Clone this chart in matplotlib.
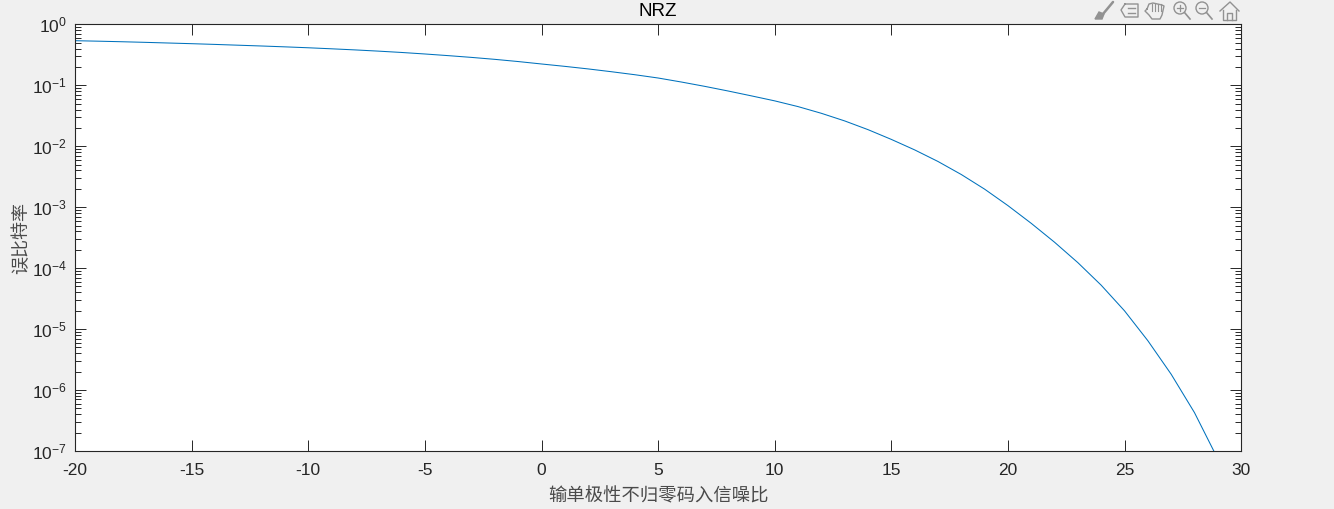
"""Plot: NRZ bit error rate against input SNR, styled like a MATLAB figure window."""

import matplotlib
matplotlib.use("Agg")
import matplotlib.pyplot as plt
import matplotlib.ticker as ticker
from matplotlib.patches import Circle, Polygon

# Values (curve height in decades below 10^0)
snr_db = [-20, -19, -18, -17, -16, -15, -14, -13, -12, -11,
          -10, -9, -8, -7, -6, -5, -4, -3, -2, -1,
          0, 1, 2, 3, 4, 5, 6, 7, 8, 9,
          10, 11, 12, 13, 14, 15, 16, 17, 18, 19,
          20, 21, 22, 23, 24, 25, 26, 27, 28, 28.83]
decades_down = [0.269, 0.277, 0.286, 0.296, 0.307, 0.318, 0.330, 0.343, 0.356, 0.370,
                0.385, 0.402, 0.420, 0.440, 0.462, 0.487, 0.514, 0.543, 0.575, 0.611,
                0.651, 0.690, 0.732, 0.778, 0.827, 0.881, 0.947, 1.018, 1.094, 1.174,
                1.256, 1.350, 1.460, 1.585, 1.728, 1.888, 2.060, 2.250, 2.464, 2.704,
                2.974, 3.265, 3.575, 3.910, 4.280, 4.700, 5.190, 5.740, 6.370, 7.000]
x_ticks = [-20, -15, -10, -5, 0, 5, 10, 15, 20, 25, 30]
y_ticks = [1e-7, 1e-6, 1e-5, 1e-4, 1e-3, 1e-2, 1e-1, 1e0]
title = "NRZ"
x_label = "输单极性不归零码入信噪比"
y_label = "误比特率"

W, H = 1334, 509
BG = "#f0f0f0"
FG = "#262626"
LABEL = "#4a4a4a"
ICON = "#929292"
CJK = ["Noto Sans CJK SC", "DejaVu Sans"]

plt.rcParams["font.family"] = ["Liberation Sans", "DejaVu Sans"]
plt.rcParams["mathtext.default"] = "regular"

fig = plt.figure(figsize=(W / 100, H / 100), dpi=100, facecolor=BG)
ax = fig.add_axes([75.1 / W, (H - 451) / H, 1166 / W, 426.7 / H])

ber = [10 ** -d for d in decades_down]
ax.plot(snr_db, ber, color="#0072bd", linewidth=0.75)

ax.set_yscale("log")
ax.set_xlim(-20, 30)
ax.set_ylim(1e-7, 1)
ax.set_xticks(x_ticks)
ax.xaxis.set_major_formatter(ticker.FuncFormatter(lambda v, _: f"{v:g}"))
ax.yaxis.set_major_locator(ticker.FixedLocator(y_ticks))
ax.yaxis.set_minor_locator(ticker.LogLocator(base=10, subs=range(2, 10), numticks=20))
ax.yaxis.set_minor_formatter(ticker.NullFormatter())

for spine in ax.spines.values():
    spine.set_color(FG)
    spine.set_linewidth(0.8)
ax.tick_params(axis="both", which="major", direction="in", length=8, width=0.7,
               color=FG, labelcolor=FG, labelsize=12.5, top=True, right=True, pad=8.5)
ax.tick_params(axis="y", which="minor", direction="in", length=4, width=0.7,
               color=FG, left=True, right=True)
ax.tick_params(axis="y", which="major", pad=6)

ax.set_title(title, color="black", fontsize=13.5, pad=6)
ax.set_xlabel(x_label, family=CJK, fontsize=13.2, color=LABEL, labelpad=7)
ax.set_ylabel(y_label, family=CJK, fontsize=13, color=LABEL)
ax.yaxis.set_label_coords((30 - 75.1) / 1166, 0.5)

# Figure toolbar icons, drawn in pixel coordinates
bar = fig.add_axes([0, 0, 1, 1], facecolor="none")
bar.set_xlim(0, W)
bar.set_ylim(H, 0)
bar.axis("off")
# brush
bar.plot([1103, 1113], [14, 2], color=ICON, lw=1.8, solid_capstyle="round")
bar.add_patch(Polygon([[1095, 19], [1099, 12], [1104, 14], [1102, 19]], color=ICON))
# legend box
bar.plot([1125, 1121, 1125, 1138, 1138, 1125, 1125], [4, 10, 17, 17, 4, 4, 4], color=ICON, lw=1)
bar.plot([1128, 1135], [8, 8], color=ICON, lw=1)
bar.plot([1128, 1135], [13, 13], color=ICON, lw=1)
# hand
bar.plot([1147, 1145, 1149, 1152, 1160, 1162, 1164, 1162, 1153, 1149, 1147],
         [9, 11, 15, 19, 19, 15, 6, 5, 3, 4, 9], color=ICON, lw=1)
for hx in (1152, 1155, 1158, 1161):
    bar.plot([hx, hx], [4, 11], color=ICON, lw=0.8)
# zoom in / zoom out
for cx, plus in ((1180, True), (1202, False)):
    bar.add_patch(Circle((cx, 8), 6, fill=False, ec=ICON, lw=1))
    bar.plot([cx + 4.5, cx + 10], [12.5, 19], color=ICON, lw=1.2)
    bar.plot([cx - 3, cx + 3], [8, 8], color=ICON, lw=0.9)
    if plus:
        bar.plot([cx, cx], [5, 11], color=ICON, lw=0.9)
# home
bar.plot([1220, 1230, 1239], [11, 2, 11], color=ICON, lw=1)
bar.plot([1223, 1223, 1236, 1236], [10, 20, 20, 10], color=ICON, lw=1)
bar.plot([1227, 1227, 1232, 1232], [20, 13, 13, 20], color=ICON, lw=1)

fig.savefig("out.png", dpi=100, facecolor=fig.get_facecolor())
plt.close(fig)
